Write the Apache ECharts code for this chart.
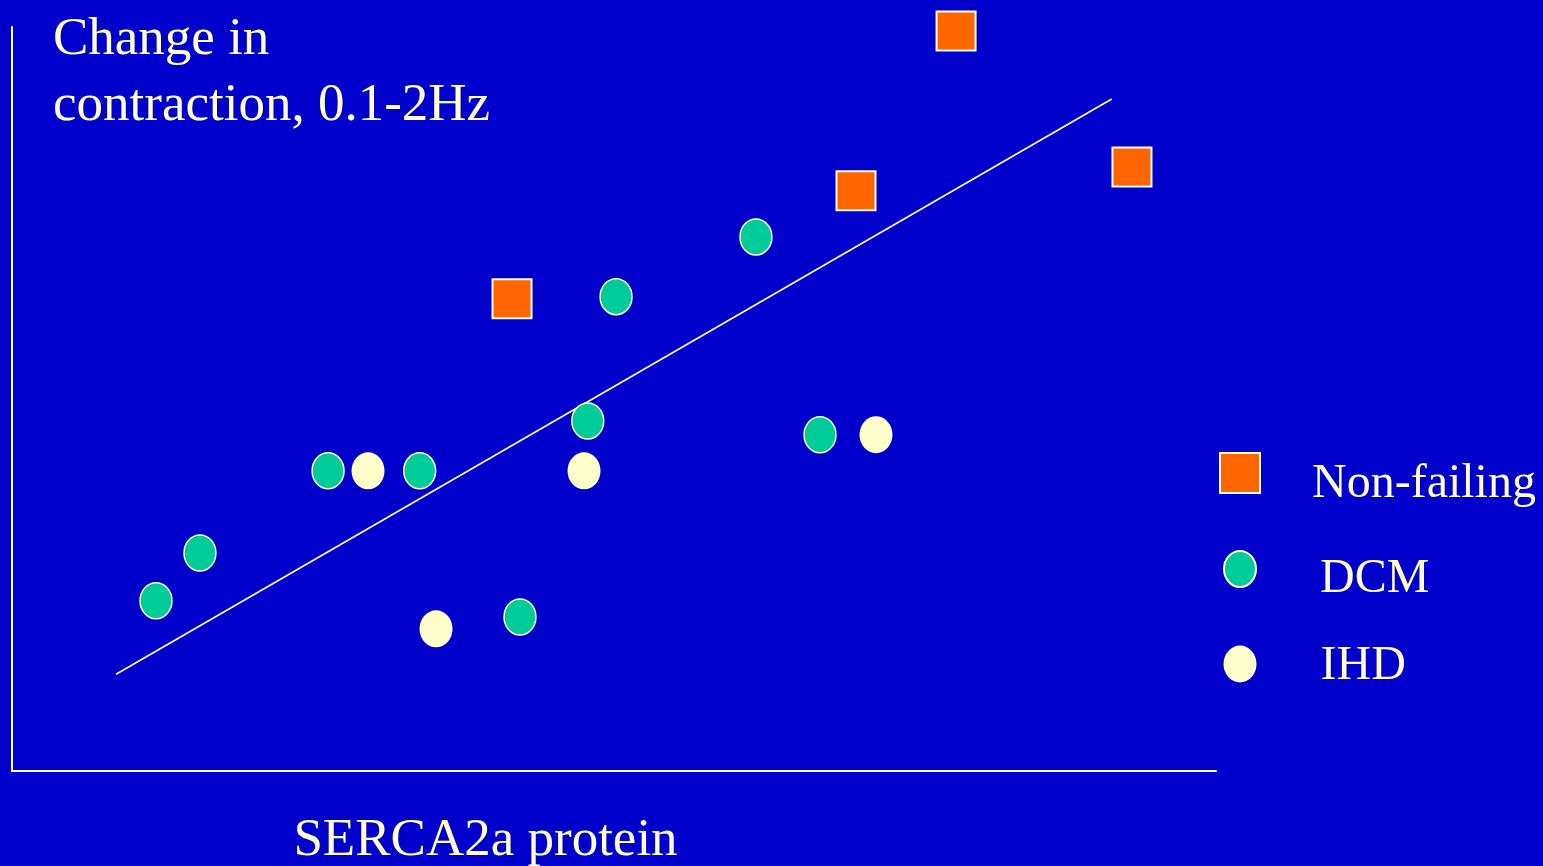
<!DOCTYPE html>
<html>
<head>
<meta charset="utf-8">
<script src="https://cdn.jsdelivr.net/npm/echarts@6/dist/echarts.min.js"></script>
<style>
html,body{margin:0;padding:0;background:#0000CC;}
#chart{width:1543px;height:866px;}
</style>
</head>
<body>
<div id="chart"></div>
<script>
// ---- data (arbitrary units) ----
const nonFailing = [[41.53, 63.48], [70.10, 77.98], [78.41, 99.46], [93.02, 81.18]];
const dcm = [[11.96, 22.88], [15.61, 29.30], [26.25, 40.35], [33.86, 40.35], [42.19, 20.70],
             [47.82, 47.04], [50.17, 63.75], [61.79, 71.77], [67.11, 45.20]];
const ihd = [[29.57, 40.35], [35.22, 19.11], [47.51, 40.35], [71.76, 45.20]];
const fitLine = [[8.64, 13.0], [91.34, 90.32]];
const yTitle = 'Change in\ncontraction, 0.1-2Hz';
const xTitle = 'SERCA2a protein';
const seriesNames = ['Non-failing', 'DCM', 'IHD'];

const FONT = "'Liberation Serif', 'Times New Roman', serif";
const CREAM = '#FFFFCC';
const ELLIPSE = 'path://M0,18A16,18,0,1,0,32,18A16,18,0,1,0,0,18Z';
// legend icons: shape at top, invisible point below so the label sits slightly lower
const LEG_RECT = 'path://M0,0L40,0L40,40L0,40Z M0,62L0,62';
const LEG_DCM = 'path://M0,18A16,18,0,1,0,32,18A16,18,0,1,0,0,18Z M0,57L0,57';
const LEG_IHD = 'path://M0,18.5A16.5,18.5,0,1,0,33,18.5A16.5,18.5,0,1,0,0,18.5Z M0,41L0,41';

const legendText = (padLeft) => ({color: CREAM, fontFamily: FONT, fontSize: 48, lineHeight: 40, padding: [0, 0, 0, padLeft]});

const chart = echarts.init(document.getElementById('chart'));
chart.setOption({
  backgroundColor: '#0000CC',
  animation: false,
  grid: {left: 12, top: 27, width: 1204, height: 744, outerBoundsMode: 'none', containLabel: false},
  xAxis: {
    type: 'value', min: 0, max: 100,
    axisLine: {show: true, lineStyle: {color: '#FFFFF0', width: 2}},
    axisTick: {show: false}, axisLabel: {show: false}, splitLine: {show: false},
    name: xTitle, nameLocation: 'middle', nameGap: 44,
    nameTextStyle: {color: CREAM, fontFamily: FONT, fontSize: 53, lineHeight: 53,
      verticalAlign: 'top', align: 'center', padding: [0, 257, 0, 0]}
  },
  yAxis: {
    type: 'value', min: 0, max: 100,
    axisLine: {show: true, lineStyle: {color: '#FFFFF0', width: 2}},
    axisTick: {show: false}, axisLabel: {show: false}, splitLine: {show: false},
    name: yTitle, nameLocation: 'end', nameGap: 19.5,
    nameTextStyle: {color: CREAM, fontFamily: FONT, fontSize: 53, lineHeight: 66,
      verticalAlign: 'top', align: 'left', padding: [0, 0, 0, 41]}
  },
  legend: [
    {orient: 'vertical', left: 1219, top: 452, padding: 0, itemWidth: 40, itemHeight: 62,
     data: [{name: seriesNames[0], icon: LEG_RECT}], textStyle: legendText(47)},
    {orient: 'vertical', left: 1223, top: 550, padding: 0, itemWidth: 32, itemHeight: 57,
     data: [{name: seriesNames[1], icon: LEG_DCM}], textStyle: legendText(59)},
    {orient: 'vertical', left: 1223.5, top: 642, padding: 0, itemWidth: 33, itemHeight: 41,
     data: [{name: seriesNames[2], icon: LEG_IHD}], textStyle: legendText(59)}
  ],
  series: [
    {type: 'line', name: 'fit', data: fitLine, symbol: 'none', silent: true,
     lineStyle: {color: '#FFFFE8', width: 1.6}, z: 1},
    {type: 'scatter', name: seriesNames[0], data: nonFailing, symbol: 'rect', symbolSize: 39,
     itemStyle: {color: '#FF6600', borderColor: '#FFFFF0', borderWidth: 2, opacity: 1}, z: 3},
    {type: 'scatter', name: seriesNames[1], data: dcm, symbol: ELLIPSE, symbolSize: [32, 36],
     itemStyle: {color: '#00CC99', borderColor: CREAM, borderWidth: 1.5, opacity: 1}, z: 3},
    {type: 'scatter', name: seriesNames[2], data: ihd, symbol: ELLIPSE, symbolSize: [33, 37],
     itemStyle: {color: CREAM, borderWidth: 0, opacity: 1}, z: 3}
  ]
});
</script>
</body>
</html>
